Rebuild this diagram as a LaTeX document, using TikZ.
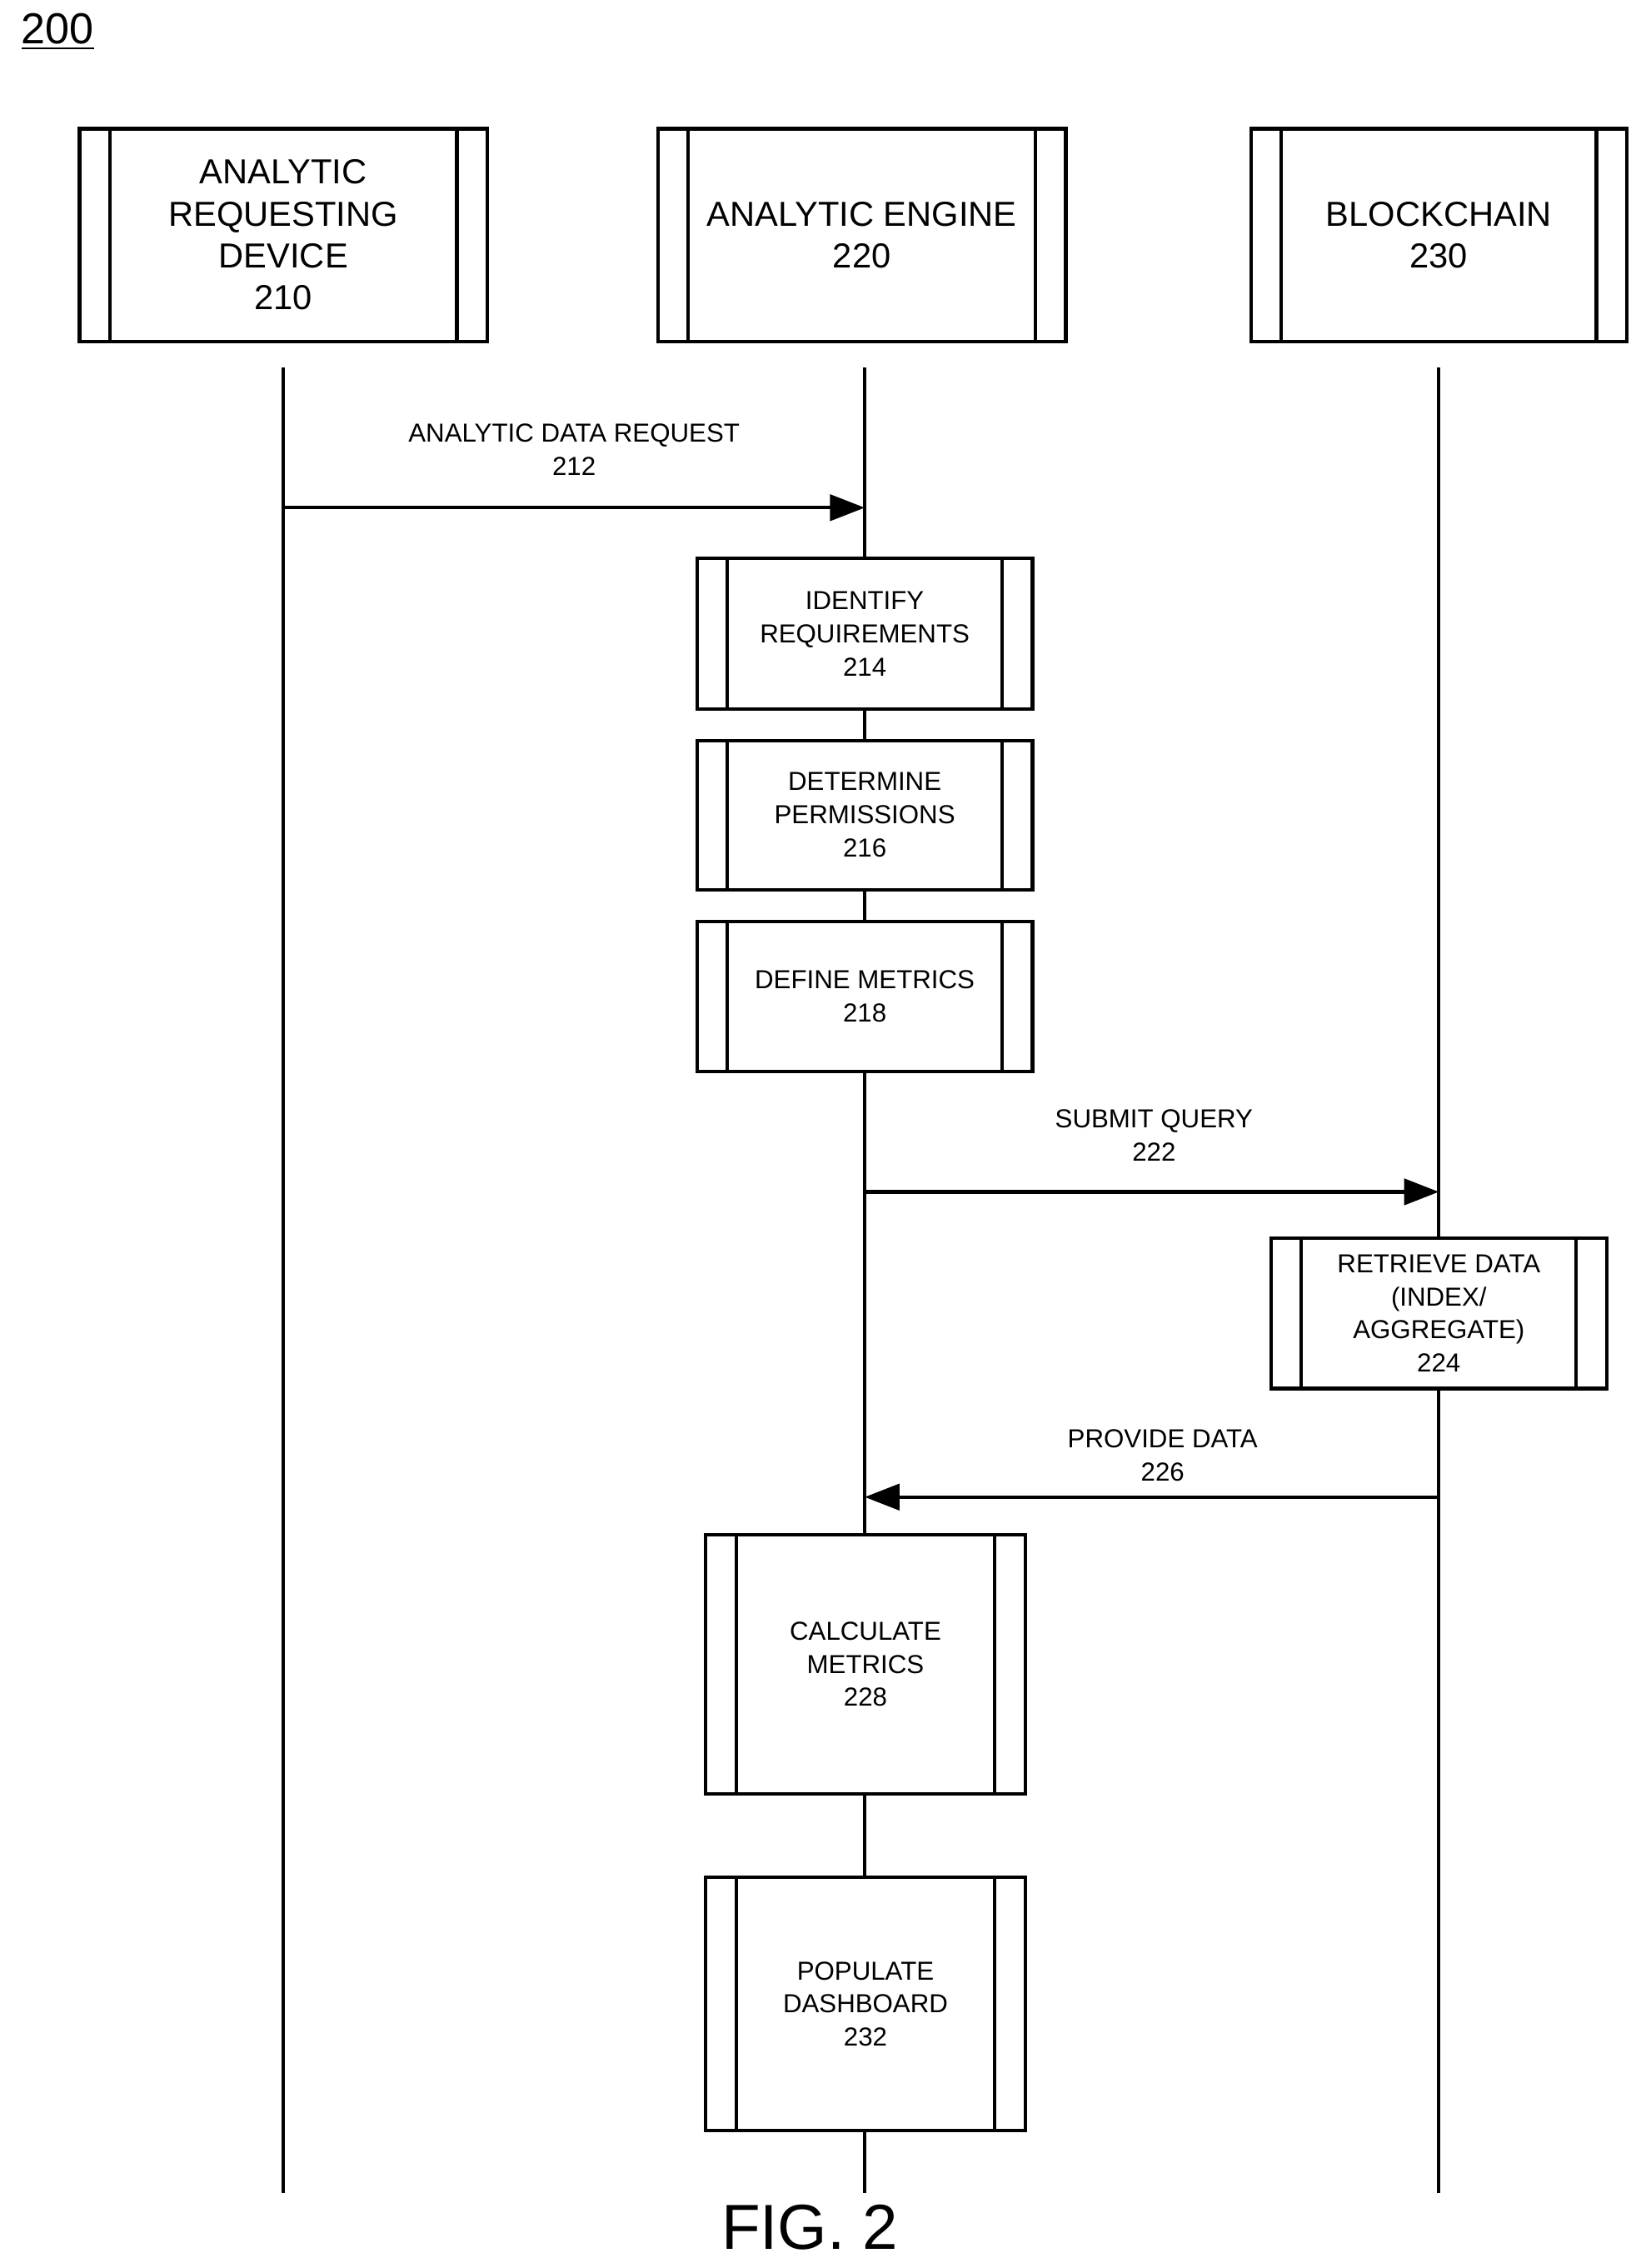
\documentclass[tikz,border=0pt]{standalone}
\usepackage{fontspec}
\setmainfont{Liberation Sans}
\usetikzlibrary{arrows.meta}
\begin{document}
\begin{tikzpicture}[x=0.5pt,y=-0.5pt,
  ln/.style={line width=1.2pt},
  arr/.style={ln,-{Triangle[length=12pt,width=9pt]}},
  big/.style={font=\fontsize{12}{14.5}\selectfont,align=center},
  sm/.style={font=\fontsize{9}{11.5}\selectfont,align=center}]
\useasboundingbox (0,0) rectangle (1138,1568);
\newcommand{\pbox}[6]{% name, x1,y1,x2,y2,inset
  \draw[ln] (#2,#3) rectangle (#4,#5);
  \draw[ln] (#2+#6,#3) -- (#2+#6,#5) (#4-#6,#3) -- (#4-#6,#5);
  \coordinate (#1) at ({(#2+#4)/2},{(#3+#5)/2});}
\node[font=\fontsize{15}{18}\selectfont] (fig) at (40,22) {\underline{200}};
\pbox{b210}{55}{89}{337}{236}{21}
\pbox{b220}{455}{89}{737}{236}{21}
\pbox{b230}{865}{89}{1125}{236}{21}
\node[big] at (b210) {ANALYTIC\\REQUESTING\\DEVICE\\210};
\node[big] at (b220) {ANALYTIC ENGINE\\220};
\node[big] at (b230) {BLOCKCHAIN\\230};
\coordinate (t1) at (196,254); \coordinate (e1) at (196,1516);
\coordinate (t2) at (598,254); \coordinate (e2) at (598,1516);
\coordinate (t3) at (995,254); \coordinate (e3) at (995,1516);
\draw[ln] (t1)--(e1); \draw[ln] (t2)--(e2); \draw[ln] (t3)--(e3);
\pbox{b214}{482}{386}{714}{490}{21}
\pbox{b216}{482}{512}{714}{615}{21}
\pbox{b218}{482}{637}{714}{741}{21}
\pbox{b224}{879}{856}{1111}{960}{21}
\pbox{b228}{488}{1061}{709}{1240}{21}
\pbox{b232}{488}{1298}{709}{1473}{21}
\fill[white] (488,1061) rectangle (709,1240);
\fill[white] (488,1298) rectangle (709,1473);
\fill[white] (482,386) rectangle (714,490);
\fill[white] (482,512) rectangle (714,615);
\fill[white] (482,637) rectangle (714,741);
\fill[white] (879,856) rectangle (1111,960);
\pbox{b214}{482}{386}{714}{490}{21}
\pbox{b216}{482}{512}{714}{615}{21}
\pbox{b218}{482}{637}{714}{741}{21}
\pbox{b224}{879}{856}{1111}{960}{21}
\pbox{b228}{488}{1061}{709}{1240}{21}
\pbox{b232}{488}{1298}{709}{1473}{21}
\node[sm] at (b214) {IDENTIFY\\REQUIREMENTS\\214};
\node[sm] at (b216) {DETERMINE\\PERMISSIONS\\216};
\node[sm] at (b218) {DEFINE METRICS\\218};
\node[sm] at (b224) {RETRIEVE DATA\\(INDEX/\\AGGREGATE)\\224};
\node[sm] at (b228) {CALCULATE\\METRICS\\228};
\node[sm] at (b232) {POPULATE\\DASHBOARD\\232};
\coordinate (a1) at (196,351); \coordinate (a2) at (598,351);
\draw[arr] (a1) -- (a2);
\node[sm] at (397,311) {ANALYTIC DATA REQUEST\\212};
\coordinate (q1) at (598,824); \coordinate (q2) at (995,824);
\draw[arr] (q1) -- (q2);
\node[sm] at (798,785) {SUBMIT QUERY\\222};
\coordinate (p1) at (995,1035); \coordinate (p2) at (598,1035);
\draw[arr] (p1) -- (p2);
\node[sm] at (804,1006) {PROVIDE DATA\\226};
\node[font=\fontsize{22}{26}\selectfont] at (560,1540) {FIG. 2};
\end{tikzpicture}
\end{document}
